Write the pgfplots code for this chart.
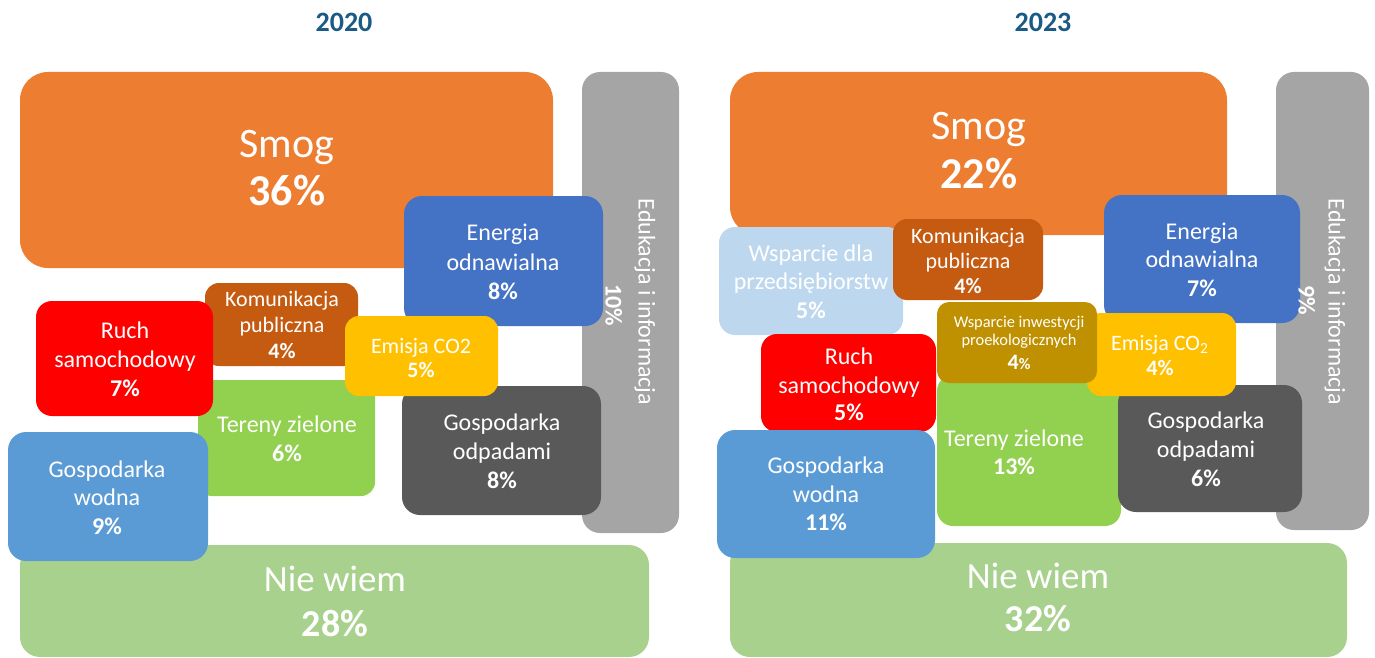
\documentclass[border=0pt]{standalone}
\usepackage{pgfplots}
\pgfplotsset{compat=1.18}
\usepackage{fontspec}
\setmainfont{Carlito}
\definecolor{csmog}{HTML}{ED7D31}
\definecolor{cedu}{HTML}{A5A5A5}
\definecolor{cener}{HTML}{4472C4}
\definecolor{ckom}{HTML}{C55A11}
\definecolor{cruch}{HTML}{FF0000}
\definecolor{cemi}{HTML}{FFC000}
\definecolor{cter}{HTML}{92D050}
\definecolor{cgodp}{HTML}{595959}
\definecolor{cwod}{HTML}{5B9BD5}
\definecolor{cnie}{HTML}{A9D18E}
\definecolor{cwsp}{HTML}{BDD7EE}
\definecolor{cinw}{HTML}{BF9000}
\definecolor{ctitle}{HTML}{1B5A84}
\newcommand\fs[1]{\fontsize{#1}{#1}\selectfont}
\tikzset{lab/.style={text=white, inner sep=0pt, text height=0.64em, text depth=0pt, anchor=center}}
\begin{document}
\begin{tikzpicture}
\begin{axis}[
  name=ax,
  width=687.5pt, height=329pt, scale only axis,
  xmin=0, xmax=1375, ymin=0, ymax=658, y dir=reverse,
  hide axis, clip=false,
  every axis plot/.append style={draw=none, mark=none},
]
% ---------------- 2020 ----------------
\addplot[fill=csmog, rounded corners=14pt] coordinates {(286.5,72) (553,72) (553,268) (20,268) (20,72)} --cycle;
\addplot[fill=cedu, rounded corners=9pt] coordinates {(630.5,72) (679,72) (679,533) (582,533) (582,72)} --cycle;
\addplot[fill=cener, rounded corners=9pt] coordinates {(503.5,196) (603,196) (603,326) (404,326) (404,196)} --cycle;
\addplot[fill=ckom, rounded corners=7pt] coordinates {(281.5,283) (358,283) (358,366) (205,366) (205,283)} --cycle;
\addplot[fill=cter, rounded corners=7pt] coordinates {(286.5,380) (375,380) (375,496) (198,496) (198,380)} --cycle;
\addplot[fill=cruch, rounded corners=8pt] coordinates {(124.5,301) (213,301) (213,416) (36,416) (36,301)} --cycle;
\addplot[fill=cgodp, rounded corners=9pt] coordinates {(501.5,386) (601,386) (601,515) (402,515) (402,386)} --cycle;
\addplot[fill=cemi, rounded corners=7pt] coordinates {(421.5,316) (498,316) (498,396) (345,396) (345,316)} --cycle;
\addplot[fill=cnie, rounded corners=10pt] coordinates {(334.5,545) (649,545) (649,657) (20,657) (20,545)} --cycle;
\addplot[fill=cwod, rounded corners=9pt] coordinates {(108,432) (208,432) (208,561) (8,561) (8,432)} --cycle;
% ---------------- 2023 ----------------
\addplot[fill=csmog, rounded corners=14pt] coordinates {(978.5,72) (1227,72) (1227,235) (730,235) (730,72)} --cycle;
\addplot[fill=cedu, rounded corners=9pt] coordinates {(1322.5,72) (1369,72) (1369,530) (1276,530) (1276,72)} --cycle;
\addplot[fill=cener, rounded corners=9pt] coordinates {(1202,195) (1300,195) (1300,323) (1104,323) (1104,195)} --cycle;
\addplot[fill=cwsp, rounded corners=8pt] coordinates {(811,227) (903,227) (903,335) (719,335) (719,227)} --cycle;
\addplot[fill=ckom, rounded corners=7pt] coordinates {(968,219) (1043,219) (1043,300) (893,300) (893,219)} --cycle;
\addplot[fill=cter, rounded corners=8pt] coordinates {(1029,375) (1121,375) (1121,526) (937,526) (937,375)} --cycle;
\addplot[fill=cgodp, rounded corners=9pt] coordinates {(1210,385) (1302,385) (1302,512) (1118,512) (1118,385)} --cycle;
\addplot[fill=cemi, rounded corners=7pt] coordinates {(1161.5,313) (1236,313) (1236,396) (1087,396) (1087,313)} --cycle;
\addplot[fill=cinw, rounded corners=6pt] coordinates {(1017,302) (1097,302) (1097,383) (937,383) (937,302)} --cycle;
\addplot[fill=cruch, rounded corners=8pt] coordinates {(848.5,334) (936,334) (936,432) (761,432) (761,334)} --cycle;
\addplot[fill=cnie, rounded corners=10pt] coordinates {(1038.5,543) (1347,543) (1347,657) (730,657) (730,543)} --cycle;
\addplot[fill=cwod, rounded corners=9pt] coordinates {(826,430) (935,430) (935,558) (717,558) (717,430)} --cycle;

% ---------------- titles ----------------
\node[lab, text=ctitle, font=\fs{14}\bfseries] at (axis cs:344,25) {2020};
\node[lab, text=ctitle, font=\fs{14}\bfseries] at (axis cs:1043,25) {2023};

% ---------------- 2020 labels ----------------
\node[lab, font=\fs{21}] at (axis cs:287,151) {Smog};
\node[lab, font=\fs{22}\bfseries] at (axis cs:287,199) {36\%};
\node[lab, font=\fs{12}] at (axis cs:503,234) {Energia};
\node[lab, font=\fs{12}] at (axis cs:503,264) {odnawialna};
\node[lab, font=\fs{12}\bfseries] at (axis cs:503,293) {8\%};
\node[lab, font=\fs{11}] at (axis cs:282,300) {Komunikacja};
\node[lab, font=\fs{11}] at (axis cs:282,326) {publiczna};
\node[lab, font=\fs{11}\bfseries] at (axis cs:282,352) {4\%};
\node[lab, font=\fs{12}] at (axis cs:125,332) {Ruch};
\node[lab, font=\fs{12}] at (axis cs:125,361) {samochodowy};
\node[lab, font=\fs{12}\bfseries] at (axis cs:125,390) {7\%};
\node[lab, font=\fs{11}] at (axis cs:421,347) {Emisja CO2};
\node[lab, font=\fs{11}\bfseries] at (axis cs:421,371) {5\%};
\node[lab, font=\fs{12}] at (axis cs:287,426) {Tereny zielone};
\node[lab, font=\fs{12}\bfseries] at (axis cs:287,455) {6\%};
\node[lab, font=\fs{12}] at (axis cs:502,424) {Gospodarka};
\node[lab, font=\fs{12}] at (axis cs:502,453) {odpadami};
\node[lab, font=\fs{12}\bfseries] at (axis cs:502,482) {8\%};
\node[lab, font=\fs{12}] at (axis cs:107,471) {Gospodarka};
\node[lab, font=\fs{12}] at (axis cs:107,499) {wodna};
\node[lab, font=\fs{12}\bfseries] at (axis cs:107,528) {9\%};
\node[lab, font=\fs{18.5}] at (axis cs:335,585) {Nie wiem};
\node[lab, font=\fs{19}\bfseries] at (axis cs:335,630) {28\%};
\node[lab, font=\fs{12}, rotate=-90] at (axis cs:645,302) {Edukacja i informacja};
\node[lab, font=\fs{12}\bfseries, rotate=-90] at (axis cs:612,305) {10\%};

% ---------------- 2023 labels ----------------
\node[lab, font=\fs{21}] at (axis cs:979,133) {Smog};
\node[lab, font=\fs{22}\bfseries] at (axis cs:979,182) {22\%};
\node[lab, font=\fs{12}] at (axis cs:811,255) {Wsparcie dla};
\node[lab, font=\fs{12}] at (axis cs:811,283) {przedsiębiorstw};
\node[lab, font=\fs{12}\bfseries] at (axis cs:811,312) {5\%};
\node[lab, font=\fs{11}] at (axis cs:968,237) {Komunikacja};
\node[lab, font=\fs{11}] at (axis cs:968,262) {publiczna};
\node[lab, font=\fs{11}\bfseries] at (axis cs:968,287) {4\%};
\node[lab, font=\fs{12}] at (axis cs:1202,233) {Energia};
\node[lab, font=\fs{12}] at (axis cs:1202,261) {odnawialna};
\node[lab, font=\fs{12}\bfseries] at (axis cs:1202,290) {7\%};
\node[lab, font=\fs{8.2}] at (axis cs:1019,321) {Wsparcie inwestycji};
\node[lab, font=\fs{8.2}] at (axis cs:1019,339) {proekologicznych};
\node[lab, font=\fs{11}\bfseries] at (axis cs:1019,363) {4{\fs{8}\%}};
\node[lab, font=\fs{11}] at (axis cs:1160,344) {Emisja CO\textsubscript{2}};
\node[lab, font=\fs{11}\bfseries] at (axis cs:1160,369) {4\%};
\node[lab, font=\fs{12}] at (axis cs:849,358) {Ruch};
\node[lab, font=\fs{12}] at (axis cs:849,387) {samochodowy};
\node[lab, font=\fs{12}\bfseries] at (axis cs:849,414) {5\%};
\node[lab, font=\fs{12}] at (axis cs:1014,440) {Tereny zielone};
\node[lab, font=\fs{12}\bfseries] at (axis cs:1014,468) {13\%};
\node[lab, font=\fs{12}] at (axis cs:1206,422) {Gospodarka};
\node[lab, font=\fs{12}] at (axis cs:1206,451) {odpadami};
\node[lab, font=\fs{12}\bfseries] at (axis cs:1206,480) {6\%};
\node[lab, font=\fs{12}] at (axis cs:826,467) {Gospodarka};
\node[lab, font=\fs{12}] at (axis cs:826,496) {wodna};
\node[lab, font=\fs{12}\bfseries] at (axis cs:826,524) {11\%};
\node[lab, font=\fs{18.5}] at (axis cs:1038,582) {Nie wiem};
\node[lab, font=\fs{19}\bfseries] at (axis cs:1038,625) {32\%};
\node[lab, font=\fs{12}, rotate=-90] at (axis cs:1335,302) {Edukacja i informacja};
\node[lab, font=\fs{12}\bfseries, rotate=-90] at (axis cs:1305,300) {9\%};
\end{axis}
\pgfresetboundingbox
\path[use as bounding box] (ax.south west) rectangle (ax.north east);
\end{tikzpicture}
\end{document}
